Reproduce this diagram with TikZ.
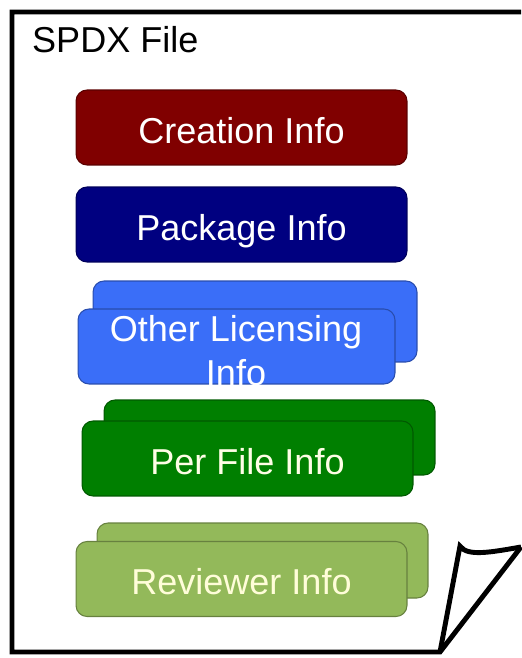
\documentclass[tikz,border=0pt]{standalone}
\usepackage{fontspec}
\setmainfont{Liberation Sans}
\definecolor{creationred}{HTML}{800000}
\definecolor{packageblue}{HTML}{000080}
\definecolor{otherblue}{HTML}{3A6EF8}
\definecolor{filegreen}{HTML}{007F00}
\definecolor{reviewgreen}{HTML}{93B95A}
\begin{document}
\begin{tikzpicture}[x=0.02cm, y=-0.02cm,
  infobox/.style={draw=#1!70!black, fill=#1, rounded corners=0.22cm, line width=0.6pt,
    minimum width=6.62cm, minimum height=1.5cm, inner sep=0pt, text=white,
    text height=18.5pt, text depth=0.8pt, font=\fontsize{20.5}{25}\selectfont},
  pageline/.style={line width=2.8pt, line join=miter}]
\useasboundingbox (0,0) rectangle (521,658);
\draw[pageline] (521,12) -- (12,12) -- (12,652) node(pagecorner){} -- (440,652) node(foldfoot){} -- (521,547);
\draw[pageline] (foldfoot.center) -- (460,546) node(foldtip){} .. controls (467,557) and (492,552) .. (521,547);
\node[anchor=west, font=\fontsize{20.5}{25}\selectfont] (title) at (26,40) {SPDX File};

\node[infobox=creationred] (creation) at (241.5,127.5) {Creation Info};
\node[infobox=packageblue] (package) at (241.5,224.5) {Package Info};

\node[infobox=otherblue, minimum width=6.48cm, minimum height=1.62cm] (otherback) at (255,321.5) {};
\node[infobox=otherblue, minimum width=6.34cm] (other) at (236.5,346.5) {};
\node[align=center, text=white, inner sep=0pt, font=\fontsize{20.5}{25}\selectfont] (otherlabel) at (236,351) {Other Licensing\\Info};

\node[infobox=filegreen] (fileback) at (269.5,437.5) {};
\node[infobox=filegreen, text=white!90!yellow] (file) at (247.5,458.5) {Per File Info};

\node[infobox=reviewgreen] (reviewback) at (262.5,560.5) {};
\node[infobox=reviewgreen, text=white!85!yellow] (review) at (241.5,579) {Reviewer Info};
\end{tikzpicture}
\end{document}
